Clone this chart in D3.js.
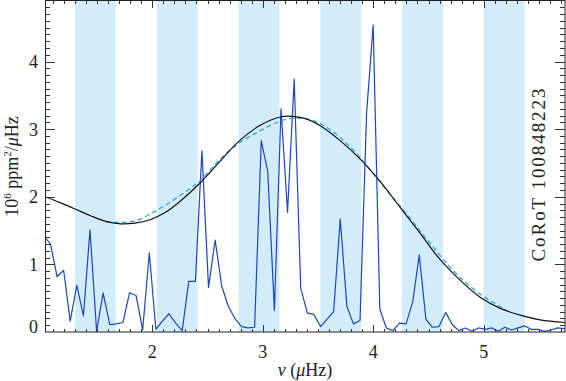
<!DOCTYPE html>
<html>
<head>
<meta charset="utf-8">
<script src="https://cdn.jsdelivr.net/npm/d3@7"></script>
<style>
  body { margin: 0; background: #fff; }
  svg text { font-family: 'Liberation Serif', 'Times New Roman', serif; fill: #222; }
</style>
</head>
<body>
<svg id="chart" width="566" height="381"></svg>
<script>
// spectrum (power density vs frequency)
const freq = [1.019, 1.079, 1.138, 1.198, 1.257, 1.317, 1.377, 1.436, 1.496, 1.555,
  1.615, 1.675, 1.734, 1.794, 1.853, 1.913, 1.973, 2.032, 2.092, 2.151,
  2.211, 2.271, 2.330, 2.390, 2.449, 2.509, 2.569, 2.628, 2.688, 2.747,
  2.807, 2.867, 2.926, 2.986, 3.045, 3.105, 3.165, 3.224, 3.284, 3.343,
  3.403, 3.463, 3.522, 3.582, 3.641, 3.701, 3.761, 3.820, 3.880, 3.939,
  3.999, 4.059, 4.118, 4.178, 4.237, 4.297, 4.357, 4.416, 4.476, 4.535,
  4.595, 4.655, 4.714, 4.774, 4.833, 4.893, 4.953, 5.012, 5.072, 5.131,
  5.191, 5.251, 5.310, 5.370, 5.429, 5.489, 5.549, 5.608, 5.668, 5.727, 5.787];
const power = [1.42, 1.30, 0.82, 0.91, 0.16, 0.69, 0.24, 1.51, 0.01, 0.58,
  0.11, 0.12, 0.14, 0.58, 0.54, 0.03, 1.17, 0.04, 0.16, 0.27,
  0.13, 0.02, 0.75, 0.75, 2.68, 0.66, 1.36, 0.68, 0.38, 0.20,
  0.08, 0.06, 0.07, 2.83, 2.37, 0.32, 3.30, 1.77, 3.74, 0.65,
  0.28, 0.26, 0.08, 0.19, 0.30, 1.67, 0.38, 0.12, 0.17, 3.23,
  4.54, 0.34, 0.06, 0.02, 0.13, 0.12, 0.45, 1.14, 0.19, 0.07,
  0.08, 0.29, 0.11, 0.02, 0.06, 0.01, 0.06, 0.04, 0.06, 0.01,
  0.07, 0.03, 0.06, 0.09, 0.04, 0.04, 0.01, 0.03, 0.06, 0.05, 0.05];

// smooth fit (black)
const fitFreq = [1.03, 1.17, 1.30, 1.44, 1.57, 1.71, 1.84, 1.98, 2.12, 2.25,
  2.43, 2.61, 2.79, 2.98, 3.16, 3.26, 3.38, 3.52, 3.70, 3.88,
  4.06, 4.24, 4.42, 4.60, 4.79, 4.97, 5.15, 5.33, 5.51, 5.74];
const fitPower = [2.00, 1.91, 1.82, 1.72, 1.64, 1.60, 1.61, 1.66, 1.77, 1.93,
  2.20, 2.52, 2.83, 3.06, 3.18, 3.19, 3.16, 3.05, 2.83, 2.56,
  2.23, 1.85, 1.47, 1.08, 0.76, 0.51, 0.35, 0.25, 0.18, 0.14];

// second fit (dashed)
const altFreq = [1.58, 1.71, 1.86, 2.02, 2.19, 2.34, 2.44, 2.61, 2.79, 2.97,
  3.16, 3.26, 3.36, 3.47, 3.61, 3.79, 3.97, 4.15, 4.33, 4.51,
  4.70, 4.88, 5.06, 5.20];
const altPower = [1.63, 1.62, 1.65, 1.78, 1.95, 2.12, 2.25, 2.55, 2.80, 2.97,
  3.12, 3.16, 3.16, 3.12, 2.99, 2.74, 2.40, 2.04, 1.69, 1.32,
  0.95, 0.67, 0.46, 0.33];

// shaded frequency bands
const bandLo = [1.30, 2.04, 2.78, 3.52, 4.26, 5.00];
const bandHi = [1.67, 2.41, 3.15, 3.89, 4.63, 5.37];

const xTicks = [2, 3, 4, 5];
const yTicks = [0, 1, 2, 3, 4];

const padL = 45, padR = 565, padT = 1, padB = 332;

const x = d3.scaleLinear().domain([1.029, 5.735]).range([padL, padR]);
const y = d3.scaleLinear().domain([0, 4.895]).range([padB, padT]);

const svg = d3.select('#chart');

svg.append('defs').append('clipPath').attr('id', 'plotclip')
  .append('rect')
  .attr('x', padL).attr('y', padT)
  .attr('width', padR - padL).attr('height', padB - padT);

const plot = svg.append('g').attr('clip-path', 'url(#plotclip)');

// bands
plot.selectAll('rect.band')
  .data(bandLo)
  .enter()
  .append('rect')
  .attr('class', 'band')
  .attr('x', (d) => x(d))
  .attr('y', padT)
  .attr('width', (d, i) => x(bandHi[i]) - x(d))
  .attr('height', padB - padT)
  .style('fill', '#d3ecfc');

// spectrum
const spec = freq.map((f, i) => [f, power[i]]);
plot.append('path')
  .datum(spec)
  .attr('d', d3.line().x((d) => x(d[0])).y((d) => y(d[1])))
  .style('fill', 'none')
  .style('stroke', '#1c46c2')
  .style('stroke-width', 1.2)
  .style('stroke-linejoin', 'round');

// dashed fit
const alt = altFreq.map((f, i) => [f, altPower[i]]);
plot.append('path')
  .datum(alt)
  .attr('d', d3.line().curve(d3.curveCatmullRom).x((d) => x(d[0])).y((d) => y(d[1])))
  .style('fill', 'none')
  .style('stroke', '#33a3f0')
  .style('stroke-width', 1.3)
  .style('stroke-dasharray', '5,3');

// black fit
const fit = fitFreq.map((f, i) => [f, fitPower[i]]);
plot.append('path')
  .datum(fit)
  .attr('d', d3.line().curve(d3.curveCatmullRom).x((d) => x(d[0])).y((d) => y(d[1])))
  .style('fill', 'none')
  .style('stroke', '#111')
  .style('stroke-width', 1.2);

// frame
svg.append('rect')
  .attr('x', padL + 0.5).attr('y', padT - 0.5)
  .attr('width', padR - padL - 0.5).attr('height', padB - padT + 0.5)
  .style('fill', 'none')
  .style('stroke', '#222')
  .style('stroke-width', 1);

// ticks on all four sides, IDL style (inward)
const xMinor = d3.range(11, 58).map((d) => d / 10);
const yMinor = d3.range(1, 49).map((d) => d / 10);
const ticks = svg.append('g').style('stroke', '#333').style('stroke-width', 1)
  .attr('shape-rendering', 'crispEdges');

xMinor.forEach((v) => {
  const major = Math.abs(v - Math.round(v)) < 1e-6;
  const len = major ? 6.6 : 3.3;
  const px = Math.round(x(v)) + 0.5;
  ticks.append('line').attr('x1', px).attr('x2', px).attr('y1', padB).attr('y2', padB - len);
  ticks.append('line').attr('x1', px).attr('x2', px).attr('y1', padT).attr('y2', padT + len);
});
yMinor.forEach((v) => {
  const major = Math.abs(v - Math.round(v)) < 1e-6;
  const len = major ? 10.4 : 5.2;
  const py = Math.round(y(v)) + 0.5;
  ticks.append('line').attr('x1', padL).attr('x2', padL + len).attr('y1', py).attr('y2', py);
  ticks.append('line').attr('x1', padR).attr('x2', padR - len).attr('y1', py).attr('y2', py);
});

// tick labels
svg.selectAll('text.xlab')
  .data(xTicks)
  .enter()
  .append('text')
  .attr('class', 'xlab')
  .attr('x', (d) => x(d))
  .attr('y', 358)
  .attr('text-anchor', 'middle')
  .style('font-size', '18px')
  .text((d) => d);

svg.selectAll('text.ylab')
  .data(yTicks)
  .enter()
  .append('text')
  .attr('class', 'ylab')
  .attr('x', 38)
  .attr('y', (d) => (d === 0 ? y(d) - 6 : y(d)) + 6.5)
  .attr('text-anchor', 'end')
  .style('font-size', '18px')
  .text((d) => d);

// axis titles
const xt = svg.append('text')
  .attr('x', (padL + padR) / 2)
  .attr('y', 376)
  .attr('text-anchor', 'middle')
  .style('font-size', '18px');
xt.append('tspan').style('font-style', 'italic').text('ν');
xt.append('tspan').text('  (');
xt.append('tspan').style('font-style', 'italic').text('μ');
xt.append('tspan').text('Hz)');

const yt = svg.append('text')
  .attr('transform', `translate(18,${(padT + padB) / 2}) rotate(-90)`)
  .attr('text-anchor', 'middle')
  .style('font-size', '18px');
yt.append('tspan').text('10');
yt.append('tspan').attr('dy', -7).style('font-size', '11px').text('6');
yt.append('tspan').attr('dy', 7).text(' ppm');
yt.append('tspan').attr('dy', -7).style('font-size', '11px').text('2');
yt.append('tspan').attr('dy', 7).text('/');
yt.append('tspan').style('font-style', 'italic').text('μ');
yt.append('tspan').text('Hz');

// star id
svg.append('text')
  .attr('transform', 'translate(545,175) rotate(-90)')
  .attr('text-anchor', 'middle')
  .attr('textLength', 173)
  .attr('lengthAdjust', 'spacing')
  .style('font-size', '19px')
  .text('CoRoT 100848223');
</script>
</body>
</html>
